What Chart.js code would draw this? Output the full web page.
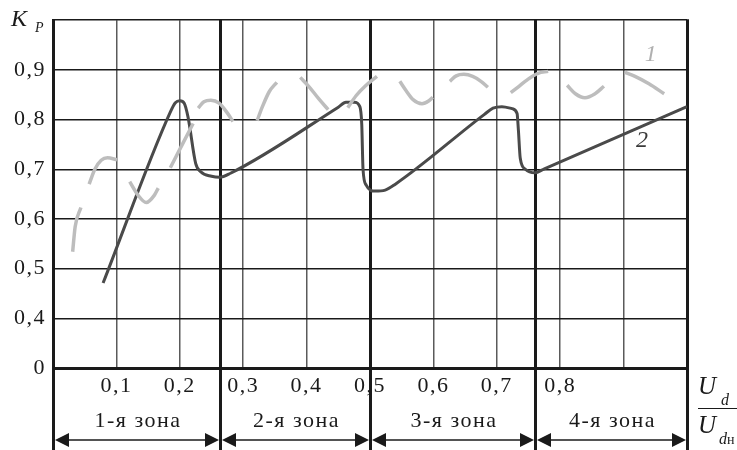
<!DOCTYPE html>
<html>
<head>
<meta charset="utf-8">
<script src="https://cdn.jsdelivr.net/npm/chart.js@4/dist/chart.umd.min.js"></script>
<style>
  html, body { margin: 0; padding: 0; background: #fff; }
  canvas { display: block; }
</style>
</head>
<body>
<canvas id="c" width="737" height="450"></canvas>
<script>
// ---- data ----
const xTickValues = [0.1, 0.2, 0.3, 0.4, 0.5, 0.6, 0.7, 0.8];
const xTickLabels = ['0,1', '0,2', '0,3', '0,4', '0,5', '0,6', '0,7', '0,8'];
const yTickValues = [0.3, 0.4, 0.5, 0.6, 0.7, 0.8, 0.9];
const yTickLabels = ['0', '0,4', '0,5', '0,6', '0,7', '0,8', '0,9'];

const zoneBounds = [0, 0.263, 0.5, 0.76, 1.0];
const zoneLabels = ['1-я зона', '2-я зона', '3-я зона', '4-я зона'];

// curve 1 (light grey, broken line); null marks a gap
const curve1X = [0.031, 0.035, 0.044, null,
  0.057, 0.066, 0.076, 0.086, 0.101, null,
  0.121, 0.134, 0.147, 0.160, 0.166, null,
  0.185, 0.204, 0.221, null,
  0.229, 0.238, 0.249, 0.262, 0.274, 0.284, null,
  0.322, 0.330, 0.341, 0.353, null,
  0.390, 0.404, 0.419, 0.434, null,
  0.465, 0.478, 0.493, 0.511, null,
  0.547, 0.557, 0.568, 0.582, 0.593, 0.599, null,
  0.626, 0.636, 0.648, 0.662, 0.675, 0.686, null,
  0.722, 0.734, 0.748, 0.765, 0.781, null,
  0.811, 0.824, 0.839, 0.855, 0.869, null,
  0.902, 0.918, 0.940, 0.964];
const curve1Y = [0.534, 0.585, 0.623, null,
  0.670, 0.700, 0.718, 0.723, 0.719, null,
  0.675, 0.648, 0.633, 0.648, 0.662, null,
  0.703, 0.750, 0.792, null,
  0.823, 0.836, 0.839, 0.833, 0.815, 0.796, null,
  0.798, 0.825, 0.856, 0.875, null,
  0.885, 0.866, 0.842, 0.820, null,
  0.824, 0.848, 0.868, 0.887, null,
  0.877, 0.858, 0.840, 0.832, 0.838, 0.845, null,
  0.877, 0.888, 0.891, 0.887, 0.877, 0.865, null,
  0.854, 0.866, 0.880, 0.893, 0.897, null,
  0.869, 0.852, 0.844, 0.852, 0.867, null,
  0.895, 0.887, 0.872, 0.852];

// curve 2 (dark grey, solid)
const curve2X = [0.079, 0.185, 0.193, 0.200, 0.207, 0.213, 0.225, 0.233, 0.250, 0.263, 0.280,
  0.450, 0.462, 0.475, 0.484, 0.487, 0.489, 0.494, 0.508, 0.524, 0.540,
  0.680, 0.694, 0.708, 0.724, 0.732, 0.734, 0.737, 0.745, 0.760, 0.775, 1.000];
const curve2Y = [0.471, 0.815, 0.834, 0.838, 0.833, 0.805, 0.712, 0.695, 0.686, 0.684, 0.692,
  0.825, 0.835, 0.835, 0.826, 0.790, 0.700, 0.668, 0.656, 0.658, 0.670,
  0.810, 0.823, 0.826, 0.822, 0.812, 0.780, 0.722, 0.700, 0.693, 0.701, 0.826];

// ---- chart ----
const INK = '#1a1a1a';
const SERIF = "'Liberation Serif', 'Times New Roman', serif";
const SPACING = '1.5px';

function pts(xs, ys) {
  return xs.map((x, i) => x === null ? { x: xs[i - 1], y: null } : { x: x, y: ys[i] });
}
function near(a, b) { return Math.abs(a - b) < 1e-6; }

const overlay = {
  id: 'overlay',
  beforeDraw(chart) {
    chart.ctx.letterSpacing = SPACING;
  },
  beforeDatasetsDraw(chart) {
    const ctx = chart.ctx, xs = chart.scales.x, top = chart.chartArea.top;
    ctx.save();
    ctx.strokeStyle = INK;
    ctx.lineWidth = 3;
    zoneBounds.forEach(v => {
      const px = Math.round(xs.getPixelForValue(v)) + 0.5;
      ctx.beginPath();
      ctx.moveTo(px, top - 1);
      ctx.lineTo(px, 450);
      ctx.stroke();
    });
    ctx.restore();
  },
  afterDraw(chart) {
    const ctx = chart.ctx, xs = chart.scales.x, ys = chart.scales.y;
    ctx.save();
    ctx.fillStyle = INK;
    ctx.strokeStyle = INK;
    ctx.letterSpacing = SPACING;
    // zone labels and arrows
    const arrowY = 440;
    for (let i = 0; i < zoneLabels.length; i++) {
      const a = Math.round(xs.getPixelForValue(zoneBounds[i])) + 2;
      const b = Math.round(xs.getPixelForValue(zoneBounds[i + 1])) - 1;
      ctx.font = '22px ' + SERIF;
      ctx.textAlign = 'center';
      ctx.textBaseline = 'middle';
      ctx.fillText(zoneLabels[i], (a + b) / 2 + 1, 421);
      ctx.lineWidth = 1.5;
      ctx.beginPath();
      ctx.moveTo(a + 8, arrowY);
      ctx.lineTo(b - 8, arrowY);
      ctx.stroke();
      ctx.beginPath();
      ctx.moveTo(a, arrowY); ctx.lineTo(a + 14, arrowY - 7); ctx.lineTo(a + 14, arrowY + 7); ctx.closePath();
      ctx.fill();
      ctx.beginPath();
      ctx.moveTo(b, arrowY); ctx.lineTo(b - 14, arrowY - 7); ctx.lineTo(b - 14, arrowY + 7); ctx.closePath();
      ctx.fill();
    }
    // y axis title K_P
    ctx.textAlign = 'left';
    ctx.textBaseline = 'alphabetic';
    ctx.letterSpacing = '0px';
    ctx.font = 'italic 24px ' + SERIF;
    ctx.fillText('K', 11, 26);
    ctx.font = 'italic 14px ' + SERIF;
    ctx.fillText('P', 35, 32);
    // x axis title U_d / U_dн
    ctx.font = 'italic 25px ' + SERIF;
    ctx.fillText('U', 698, 394);
    ctx.fillText('U', 698, 433);
    ctx.font = 'italic 16px ' + SERIF;
    ctx.fillText('d', 721, 405);
    ctx.fillText('d', 719, 444);
    ctx.font = '14px ' + SERIF;
    ctx.fillText('н', 727, 444);
    ctx.lineWidth = 1.2;
    ctx.beginPath();
    ctx.moveTo(698, 408.5);
    ctx.lineTo(737, 408.5);
    ctx.stroke();
    // curve labels
    ctx.font = 'italic 24px ' + SERIF;
    ctx.textAlign = 'center';
    ctx.textBaseline = 'middle';
    ctx.fillStyle = '#b0b0b0';
    ctx.fillText('1', xs.getPixelForValue(0.943), ys.getPixelForValue(0.931));
    ctx.fillStyle = '#3a3a3a';
    ctx.fillText('2', xs.getPixelForValue(0.929), ys.getPixelForValue(0.758));
    ctx.restore();
  }
};

new Chart(document.getElementById('c'), {
  type: 'scatter',
  data: {
    datasets: [
      {
        label: '1',
        data: pts(curve1X, curve1Y),
        showLine: true,
        spanGaps: false,
        borderColor: '#bdbdbd',
        borderWidth: 3.5,
        borderCapStyle: 'butt',
        pointRadius: 0,
        cubicInterpolationMode: 'monotone'
      },
      {
        label: '2',
        data: pts(curve2X, curve2Y),
        showLine: true,
        borderColor: '#4a4a4a',
        borderWidth: 3,
        borderJoinStyle: 'round',
        pointRadius: 0,
        cubicInterpolationMode: 'monotone'
      }
    ]
  },
  options: {
    responsive: false,
    animation: false,
    events: [],
    layout: { padding: { top: 18, right: 50, bottom: 0, left: 0 } },
    plugins: { legend: { display: false }, tooltip: { enabled: false } },
    scales: {
      x: {
        type: 'linear',
        min: 0,
        max: 1,
        afterFit(s) { s.height = 82; },
        ticks: {
          stepSize: 0.1,
          autoSkip: false,
          maxRotation: 0,
          padding: 5,
          color: INK,
          font: { family: SERIF, size: 22 },
          callback(v) {
            const i = xTickValues.findIndex(t => near(t, v));
            return i >= 0 ? xTickLabels[i] : '';
          }
        },
        grid: {
          drawTicks: false,
          lineWidth: 1.5,
          color(c) {
            const v = c.tick ? c.tick.value : 0;
            return (near(v, 0) || near(v, 1)) ? 'rgba(0,0,0,0)' : '#5a5a5a';
          }
        },
        border: { color: INK, width: 3 }
      },
      y: {
        type: 'linear',
        min: 0.3,
        max: 1.0,
        afterFit(s) { s.width = 53; },
        ticks: {
          stepSize: 0.1,
          padding: 7,
          color: INK,
          font: { family: SERIF, size: 22 },
          callback(v) {
            const i = yTickValues.findIndex(t => near(t, v));
            return i >= 0 ? yTickLabels[i] : '';
          }
        },
        grid: { drawTicks: false, lineWidth: 1.5, color: INK },
        border: { color: INK, width: 3 }
      }
    }
  },
  plugins: [overlay]
});
</script>
</body>
</html>
